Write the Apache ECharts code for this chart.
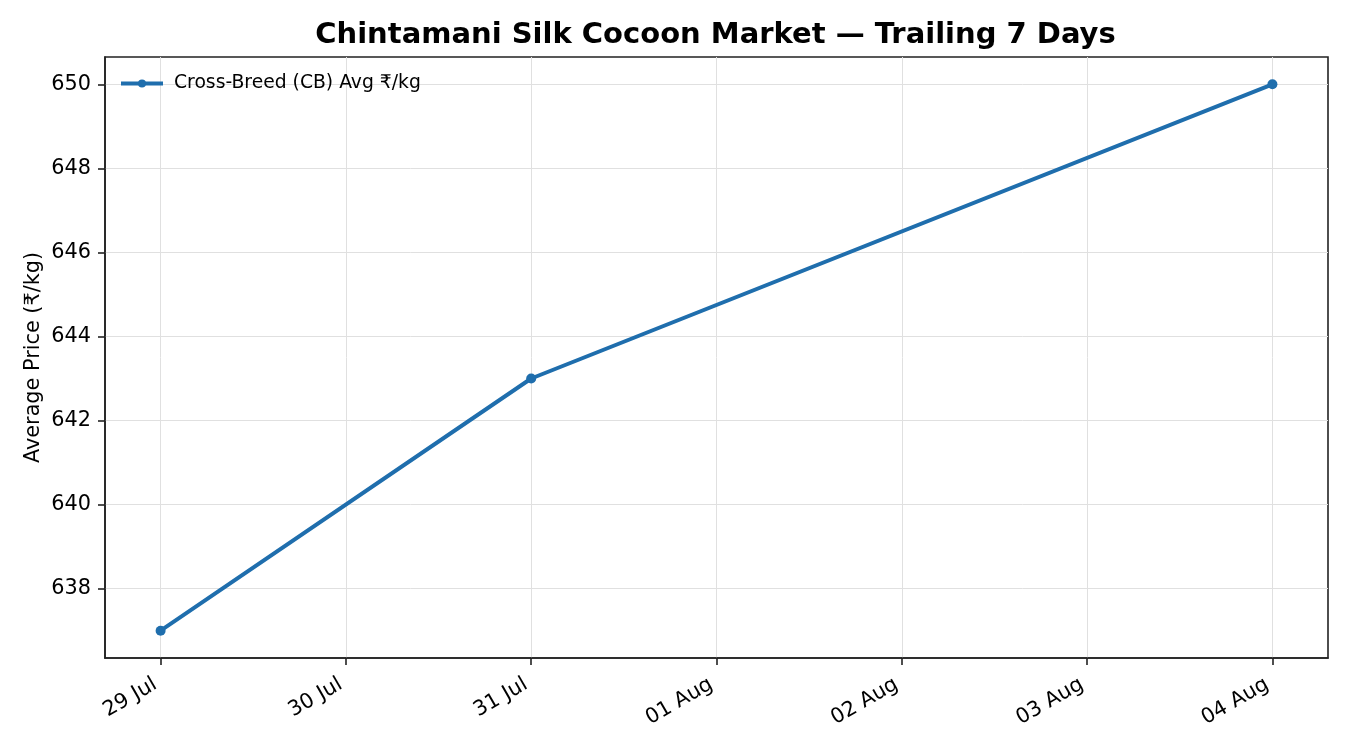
<!DOCTYPE html>
<html>
<head>
<meta charset="utf-8">
<script src="https://cdn.jsdelivr.net/npm/echarts@6/dist/echarts.min.js"></script>
<style>
  html, body { margin: 0; padding: 0; background: #fff; }
  #chart { width: 1350px; height: 750px; }
</style>
</head>
<body>
<div id="chart"></div>
<script>
// ---- data ----
const dayLabels = ['29 Jul', '30 Jul', '31 Jul', '01 Aug', '02 Aug', '03 Aug', '04 Aug'];
const obsDays = ['29 Jul', '31 Jul', '04 Aug'];
const cbPrice = [637, 643, 650];
const yTicks = [638, 640, 642, 644, 646, 648, 650];
const seriesName = 'Cross-Breed (CB) Avg ₹/kg';
const titleText = 'Chintamani Silk Cocoon Market — Trailing 7 Days';
const yAxisName = 'Average Price (₹/kg)';

const dayIdx = dayLabels.map((_, i) => i);
const points = obsDays.map((d, i) => [dayLabels.indexOf(d), cbPrice[i]]);

const xPad = (dayIdx.length - 1) * 0.05;
const yMinV = Math.min(...cbPrice), yMaxV = Math.max(...cbPrice);
const yPad = (yMaxV - yMinV) * 0.05;

const FONT = 'DejaVu Sans';
const chart = echarts.init(document.getElementById('chart'));
chart.setOption({
  animation: false,
  textStyle: { fontFamily: FONT },
  title: {
    text: titleText,
    left: 710.5,
    textAlign: 'center',
    top: 16,
    textStyle: { fontFamily: FONT, fontWeight: 'bold', fontSize: 29, color: '#000' }
  },
  legend: {
    left: 114,
    top: 69,
    itemWidth: 42,
    itemHeight: 10,
    itemGap: 10,
    lineStyle: { width: 4 },
    textStyle: { fontFamily: FONT, fontSize: 18.75, color: '#000', padding: [0, 0, 0, 6] },
    data: [seriesName]
  },
  grid: {
    left: 105, right: 22, top: 57, bottom: 92,
    show: true, borderColor: '#222', borderWidth: 1.6, backgroundColor: 'transparent'
  },
  xAxis: {
    type: 'value',
    min: -xPad,
    max: dayIdx.length - 1 + xPad,
    axisLine: { show: true, onZero: false, lineStyle: { color: '#222', width: 1.6 } },
    axisTick: { show: true, length: 7, customValues: dayIdx, lineStyle: { color: '#222', width: 1.6 } },
    axisLabel: {
      customValues: dayIdx,
      formatter: v => dayLabels[Math.round(v)] || '',
      rotate: 30,
      margin: 22,
      padding: [0, 6, 0, 0],
      fontFamily: FONT, fontSize: 20.8, color: '#000'
    },
    splitLine: { show: true, lineStyle: { color: '#e0e0e0', width: 1 } }
  },
  yAxis: {
    type: 'value',
    min: +(yMinV - yPad).toFixed(2),
    max: +(yMaxV + yPad).toFixed(2),
    name: yAxisName,
    nameLocation: 'middle',
    nameRotate: 90,
    nameGap: 61,
    nameMoveOverlap: false,
    nameTextStyle: { fontFamily: FONT, fontSize: 20.8, color: '#000' },
    axisLine: { show: true, onZero: false, lineStyle: { color: '#222', width: 1.6 } },
    axisTick: { show: true, length: 7, customValues: yTicks, lineStyle: { color: '#222', width: 1.6 } },
    axisLabel: {
      customValues: yTicks,
      margin: 14,
      fontFamily: FONT, fontSize: 20.8, color: '#000'
    },
    splitLine: { show: true, lineStyle: { color: '#e0e0e0', width: 1 } }
  },
  series: [{
    name: seriesName,
    type: 'line',
    data: points,
    symbol: 'circle',
    symbolSize: 10,
    lineStyle: { color: '#1f6ead', width: 4 },
    itemStyle: { color: '#1f6ead' }
  }]
});
</script>
</body>
</html>
